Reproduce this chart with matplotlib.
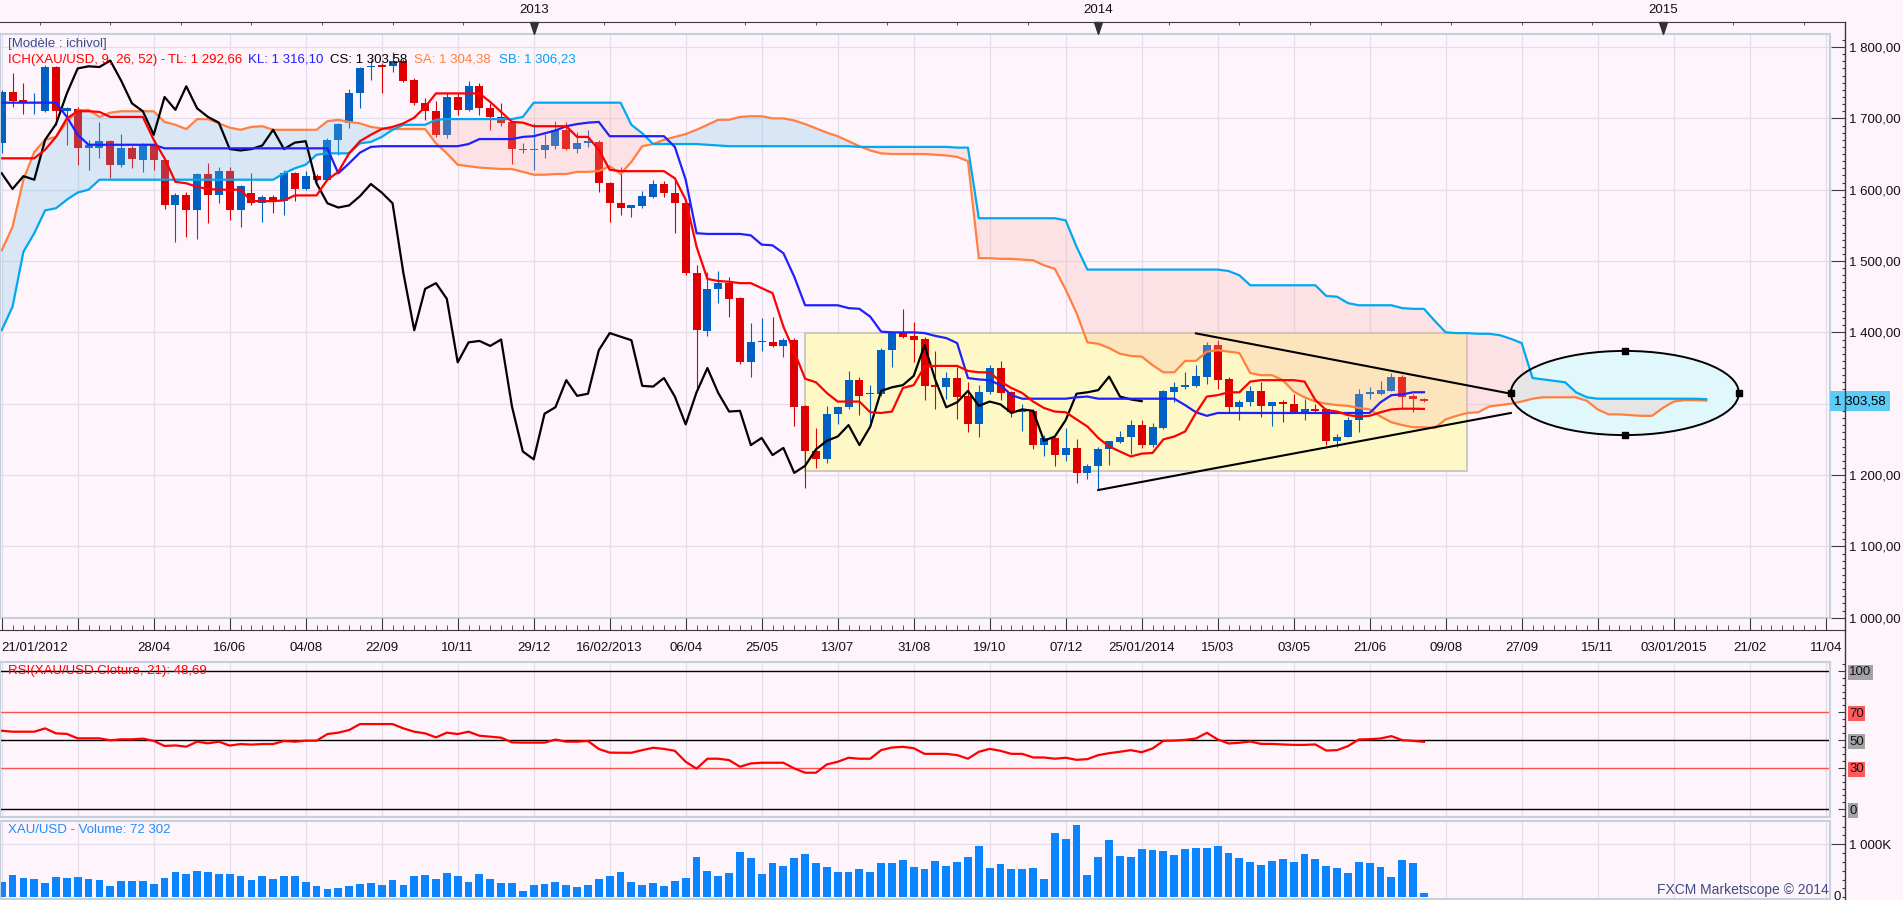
import matplotlib
matplotlib.use('Agg')
import matplotlib.pyplot as plt
import matplotlib.transforms as mtrans
from matplotlib.lines import Line2D
from matplotlib.patches import Rectangle, Ellipse
from matplotlib.ticker import MultipleLocator, FixedLocator, FuncFormatter

plt.rcParams['font.family'] = ['Liberation Sans', 'DejaVu Sans']
plt.rcParams['font.size'] = 9.5

# ---------------- data: weekly XAU/USD, week 0 = 21/01/2012 ----------------
opens = [1665, 1737, 1726, 1721, 1711, 1772, 1711, 1713, 1659, 1659,
         1668, 1635, 1659, 1642, 1663, 1641, 1578, 1593, 1572, 1622,
         1592, 1626, 1571, 1596, 1582, 1590, 1584, 1623, 1601, 1619,
         1614, 1670, 1694, 1735, 1772, 1775, 1773, 1781, 1754, 1721,
         1710, 1677, 1730, 1712, 1745, 1714, 1702, 1695, 1657, 1656,
         1655, 1661, 1684, 1657, 1666, 1667, 1609, 1581, 1575, 1577,
         1590, 1608, 1596, 1581, 1483, 1402, 1461, 1469, 1448, 1359,
         1387, 1387, 1381, 1390, 1297, 1234, 1222, 1285, 1295, 1333,
         1313, 1313, 1375, 1399, 1395, 1391, 1326, 1324, 1336, 1311,
         1271, 1316, 1350, 1316, 1289, 1290, 1242, 1252, 1228, 1238,
         1203, 1213, 1236, 1247, 1253, 1270, 1242, 1266, 1316, 1323,
         1325, 1338, 1382, 1335, 1295, 1302, 1318, 1297, 1303, 1300,
         1287, 1293, 1293, 1248, 1254, 1277, 1314, 1314, 1318, 1338,
         1311, 1307]
highs = [1740, 1763, 1750, 1735, 1775, 1774, 1716, 1716, 1670, 1695,
         1670, 1678, 1661, 1665, 1666, 1643, 1595, 1597, 1624, 1638,
         1632, 1632, 1607, 1623, 1592, 1592, 1627, 1625, 1626, 1622,
         1672, 1694, 1741, 1772, 1782, 1777, 1793, 1783, 1756, 1728,
         1725, 1736, 1736, 1752, 1750, 1721, 1721, 1697, 1665, 1693,
         1678, 1696, 1695, 1681, 1683, 1669, 1611, 1632, 1579, 1598,
         1614, 1612, 1614, 1585, 1494, 1484, 1486, 1477, 1450, 1413,
         1420, 1422, 1392, 1392, 1298, 1266, 1297, 1297, 1346, 1337,
         1326, 1378, 1402, 1433, 1414, 1394, 1374, 1344, 1352, 1330,
         1326, 1354, 1360, 1318, 1300, 1292, 1256, 1254, 1266, 1250,
         1215, 1239, 1248, 1262, 1277, 1277, 1273, 1319, 1331, 1345,
         1354, 1387, 1389, 1337, 1305, 1325, 1330, 1303, 1305, 1314,
         1307, 1300, 1294, 1257, 1282, 1321, 1324, 1332, 1343, 1340,
         1314, 1308]
lows = [1651, 1716, 1706, 1706, 1709, 1691, 1663, 1635, 1628, 1645,
        1616, 1632, 1630, 1625, 1628, 1573, 1527, 1534, 1531, 1554,
        1582, 1557, 1548, 1578, 1555, 1568, 1564, 1584, 1599, 1612,
        1613, 1649, 1686, 1715, 1754, 1736, 1765, 1751, 1719, 1698,
        1674, 1673, 1705, 1710, 1705, 1684, 1689, 1636, 1652, 1628,
        1644, 1657, 1655, 1652, 1660, 1597, 1555, 1564, 1562, 1575,
        1589, 1590, 1539, 1480, 1322, 1395, 1441, 1421, 1356, 1338,
        1374, 1379, 1366, 1269, 1182, 1210, 1217, 1272, 1293, 1284,
        1274, 1311, 1352, 1392, 1359, 1305, 1292, 1306, 1278, 1261,
        1253, 1313, 1305, 1282, 1262, 1237, 1226, 1212, 1220, 1189,
        1194, 1179, 1214, 1245, 1230, 1238, 1240, 1265, 1303, 1320,
        1324, 1328, 1320, 1287, 1277, 1297, 1282, 1269, 1274, 1287,
        1277, 1287, 1242, 1240, 1253, 1260, 1306, 1312, 1318, 1294,
        1288, 1302]
closes = [1737, 1725, 1723, 1723, 1772, 1711, 1714, 1659, 1662, 1668,
          1635, 1659, 1643, 1663, 1641, 1578, 1593, 1572, 1622, 1592,
          1626, 1571, 1605, 1582, 1590, 1584, 1623, 1601, 1619, 1614,
          1670, 1692, 1735, 1770, 1773, 1772, 1781, 1753, 1721, 1710,
          1677, 1730, 1712, 1745, 1714, 1702, 1694, 1657, 1655, 1657,
          1662, 1684, 1657, 1666, 1668, 1609, 1581, 1575, 1578, 1591,
          1608, 1596, 1581, 1483, 1403, 1461, 1469, 1447, 1358, 1386,
          1388, 1381, 1390, 1296, 1233, 1222, 1286, 1295, 1333, 1311,
          1314, 1375, 1399, 1394, 1389, 1325, 1324, 1336, 1310, 1271,
          1316, 1350, 1315, 1289, 1290, 1242, 1252, 1228, 1238, 1203,
          1213, 1236, 1248, 1254, 1270, 1242, 1268, 1318, 1323, 1326,
          1339, 1382, 1333, 1295, 1302, 1318, 1297, 1303, 1299, 1287,
          1292, 1290, 1248, 1254, 1277, 1314, 1316, 1319, 1338, 1310,
          1306, 1303.58]

# Ichimoku lines
tenkan = [1644, 1644, 1644, 1644, 1656, 1674, 1700, 1710, 1710, 1709,
          1702, 1702, 1702, 1702, 1670, 1644, 1611, 1609, 1604, 1601,
          1600, 1600, 1600, 1584, 1584, 1584, 1585, 1592, 1592, 1592,
          1614, 1625, 1651, 1668, 1677, 1685, 1688, 1693, 1701, 1716,
          1735, 1735, 1735, 1735, 1735, 1723, 1709, 1695, 1694, 1689,
          1689, 1689, 1689, 1674, 1674, 1656, 1628, 1626, 1626, 1626,
          1626, 1626, 1616, 1586, 1520, 1475, 1472, 1471, 1469, 1469,
          1462, 1455, 1408, 1373, 1335, 1330, 1315, 1303, 1303, 1303,
          1288, 1287, 1289, 1322, 1326, 1352, 1353, 1353, 1353, 1346,
          1344, 1344, 1331, 1322, 1315, 1303, 1294, 1289, 1288, 1278,
          1268, 1252, 1240, 1233, 1226, 1230, 1231, 1250, 1254, 1261,
          1287, 1310, 1312, 1316, 1316, 1331, 1333, 1333, 1333, 1333,
          1331, 1305, 1291, 1289, 1284, 1282, 1283, 1288, 1292, 1293,
          1293, 1292.66]
kijun = [1722, 1722, 1722, 1722, 1722, 1722, 1702, 1677, 1663, 1663,
         1663, 1663, 1663, 1663, 1663, 1658, 1658, 1658, 1658, 1658,
         1658, 1658, 1658, 1658, 1658, 1658, 1658, 1658, 1658, 1658,
         1658, 1623, 1637, 1652, 1660, 1661, 1661, 1661, 1661, 1661,
         1661, 1661, 1661, 1664, 1671, 1671, 1671, 1671, 1674, 1675,
         1679, 1683, 1689, 1692, 1694, 1695, 1675, 1675, 1675, 1675,
         1675, 1675, 1660, 1614, 1539, 1538, 1538, 1538, 1538, 1536,
         1523, 1522, 1511, 1478, 1438, 1438, 1438, 1438, 1434, 1433,
         1422, 1401, 1400, 1400, 1400, 1399, 1395, 1392, 1385, 1336,
         1334, 1333, 1326, 1312, 1307, 1307, 1307, 1307, 1307, 1309,
         1310, 1307, 1307, 1307, 1307, 1307, 1307, 1307, 1307, 1298,
         1288, 1283, 1287, 1287, 1287, 1287, 1287, 1287, 1287, 1287,
         1287, 1287, 1287, 1287, 1287, 1287, 1287, 1302, 1312, 1313,
         1316, 1316.10]
# senkou spans run 26 weeks past the last bar
senkou_a = [1515, 1548, 1614, 1653, 1670, 1674, 1695, 1711, 1712, 1702,
            1708, 1710, 1710, 1710, 1710, 1695, 1691, 1685, 1699, 1699,
            1693, 1687, 1684, 1688, 1689, 1684, 1684, 1684, 1684, 1684,
            1696, 1698, 1695, 1693, 1688, 1686, 1685, 1685, 1685, 1685,
            1665, 1651, 1635, 1633, 1631, 1630, 1629, 1629, 1625, 1621,
            1621, 1622, 1622, 1625, 1625, 1626, 1633, 1622, 1639, 1661,
            1664, 1670, 1674, 1678, 1684, 1691, 1698, 1698, 1702, 1703,
            1703, 1700, 1700, 1697, 1692, 1686, 1680, 1675, 1668, 1661,
            1655, 1651, 1650, 1650, 1650, 1650, 1649, 1648, 1646, 1640,
            1504, 1504, 1503, 1503, 1502, 1501, 1494, 1489, 1460, 1427,
            1386, 1384, 1378, 1370, 1367, 1366, 1354, 1344, 1344, 1360,
            1360, 1373, 1375, 1373, 1371, 1343, 1340, 1340, 1333, 1317,
            1309, 1303, 1300, 1298, 1297, 1294, 1292, 1282, 1274, 1270,
            1267, 1267, 1266, 1278, 1283, 1287, 1288, 1296, 1298, 1300,
            1303, 1307, 1309, 1309, 1309, 1309, 1304, 1292, 1285, 1285,
            1284, 1283, 1283, 1294, 1303, 1305, 1305, 1304.38]
senkou_b = [1403, 1436, 1513, 1539, 1571, 1574, 1586, 1596, 1600, 1614,
            1614, 1614, 1614, 1614, 1614, 1614, 1614, 1614, 1614, 1614,
            1614, 1614, 1614, 1614, 1614, 1614, 1623, 1630, 1635, 1649,
            1651, 1651, 1651, 1665, 1667, 1674, 1684, 1691, 1691, 1691,
            1698, 1699, 1699, 1699, 1699, 1699, 1699, 1699, 1702, 1722,
            1722, 1722, 1722, 1722, 1722, 1722, 1722, 1722, 1691, 1679,
            1664, 1664, 1664, 1664, 1664, 1663, 1662, 1661, 1661, 1661,
            1661, 1661, 1661, 1661, 1661, 1661, 1661, 1661, 1661, 1660,
            1660, 1660, 1660, 1660, 1660, 1660, 1660, 1660, 1659, 1659,
            1560, 1560, 1560, 1560, 1560, 1560, 1560, 1560, 1557, 1520,
            1488, 1488, 1488, 1488, 1488, 1488, 1488, 1488, 1488, 1488,
            1488, 1488, 1488, 1486, 1480, 1466, 1466, 1466, 1466, 1466,
            1466, 1466, 1451, 1450, 1441, 1438, 1438, 1438, 1438, 1434,
            1433, 1433, 1416, 1400, 1399, 1399, 1398, 1398, 1396, 1391,
            1385, 1336, 1334, 1332, 1330, 1316, 1309, 1307, 1307, 1307,
            1307, 1307, 1307, 1307, 1307, 1307, 1307, 1306.23]
chikou_shift = 26

rsi = [56.7, 56.0, 56.0, 56.0, 58.4, 54.8, 54.4, 51.2, 51.2, 51.2,
       49.8, 50.5, 50.5, 51.0, 49.4, 45.7, 46.1, 45.2, 48.8, 47.6,
       48.8, 46.0, 47.1, 46.7, 47.1, 47.1, 49.3, 48.8, 49.5, 49.5,
       54.3, 55.3, 57.2, 61.5, 61.5, 61.5, 61.5, 58.4, 56.0, 54.8,
       51.9, 55.3, 54.3, 56.0, 53.1, 52.4, 51.7, 48.3, 48.1, 48.1,
       48.1, 50.3, 48.8, 48.8, 49.3, 43.5, 40.9, 40.8, 40.8, 42.7,
       44.4, 43.6, 42.2, 34.3, 29.3, 36.5, 36.5, 35.5, 30.7, 33.1,
       33.6, 33.6, 33.6, 29.5, 26.4, 26.4, 32.4, 34.3, 37.2, 36.5,
       36.5, 42.7, 44.6, 45.1, 44.1, 40.0, 40.0, 40.0, 39.1, 36.5,
       41.5, 43.6, 42.2, 40.0, 40.0, 37.4, 37.4, 36.5, 37.2, 35.7,
       36.2, 39.1, 40.5, 41.5, 42.7, 41.2, 43.9, 49.4, 49.6, 50.1,
       51.1, 55.2, 50.4, 47.5, 48.0, 48.9, 47.2, 47.2, 46.8, 46.5,
       46.5, 46.8, 42.4, 42.7, 45.6, 50.4, 50.6, 51.1, 52.8, 49.9,
       49.4, 48.7]
rsi_levels = [100, 70, 50, 30, 0]
rsi_level_colors = ['black', '#ff5050', 'black', '#ff5050', 'black']
rsi_label_bg = ['#a3a3a3', '#ff5a5a', '#a3a3a3', '#ff5a5a', '#a3a3a3']

volume_k = [289, 421, 371, 346, 270, 384, 371, 384, 346, 327,
            214, 308, 308, 308, 252, 371, 478, 440, 497, 478,
            440, 440, 403, 327, 403, 346, 403, 403, 289, 214,
            157, 176, 214, 252, 270, 233, 327, 233, 403, 421,
            346, 459, 403, 289, 440, 346, 270, 270, 119, 233,
            252, 289, 233, 195, 233, 346, 403, 481, 294, 238,
            275, 219, 313, 369, 763, 500, 406, 463, 856, 744,
            444, 650, 594, 744, 819, 650, 575, 481, 481, 538,
            481, 650, 650, 706, 575, 538, 688, 594, 669, 763,
            969, 556, 631, 538, 538, 556, 350, 1213, 1100, 1363,
            425, 763, 1081, 781, 763, 913, 894, 875, 800, 913,
            931, 931, 969, 838, 744, 669, 613, 688, 725, 669,
            819, 725, 594, 556, 463, 669, 650, 575, 388, 706,
            650, 72]

# time axis labels (one grid line every 7 weeks)
grid_weeks = list(range(0, 169, 7))
date_labels = ['21/01/2012', '', '28/04', '16/06', '04/08', '22/09', '10/11',
               '29/12', '16/02/2013', '06/04', '25/05', '13/07', '31/08',
               '19/10', '07/12', '25/01/2014', '15/03', '03/05', '21/06',
               '09/08', '27/09', '15/11', '03/01/2015', '21/02', '11/04']
year_weeks = [49, 101, 153]
year_labels = ['2013', '2014', '2015']
top_tick_weeks = [49 + 6.5 * k for k in range(-7, 19)]

# drawings on the chart
box_weeks = [74, 135]
box_prices = [1205, 1399]
upper_trend_weeks = [110, 139]
upper_trend_prices = [1398.6, 1314]
lower_trend_weeks = [101, 139]
lower_trend_prices = [1179, 1287]
ell_center = (149.5, 1315)
ell_size = (21, 118)
handle_weeks = [139, 160, 149.5, 149.5]
handle_prices = [1315, 1315, 1374, 1256]

# ---------------- layout ----------------
W, H = 1903, 900
PX_WEEK = 10.857
X0 = -1.7 / PX_WEEK
BG = '#fef4fc'
GRID = '#e2dde8'
FRAME = '#c6d0da'
AXIS = '#3a3a3a'
BLUE = '#0060c4'
RED = '#de0000'


def box(x0, y0, x1, y1):
    return [x0 / W, 1 - y1 / H, (x1 - x0) / W, (y1 - y0) / H]


def xright(px):
    return X0 + px / PX_WEEK


def price_fmt(v, pos=None):
    return f'{v:,.2f}'.replace(',', ' ').replace('.', ',')


def axis_fmt(v, pos):
    # the 1 300 label sits under the last-price box
    if abs(v - 1300) < 1e-6:
        return ''
    return price_fmt(v)


fig = plt.figure(figsize=(W / 100, H / 100), dpi=100, facecolor=BG)


def panel(y0, y1, ylim):
    ax = fig.add_axes(box(0, y0, 1830, y1), facecolor=BG)
    ax.set_xlim(X0, xright(1830))
    ax.set_ylim(*ylim)
    ax.yaxis.tick_right()
    ax.spines['right'].set_position(('outward', 15 * 0.72))
    for s in ax.spines.values():
        s.set_visible(False)
    ax.add_patch(Rectangle((0, 0), 1, 1, transform=ax.transAxes, fill=False,
                           ec=FRAME, lw=1.5, zorder=10, clip_on=False))
    ax.set_xticks(grid_weeks)
    ax.tick_params(axis='x', bottom=False, labelbottom=False)
    ax.grid(axis='x', color=GRID, lw=0.9)
    ax.tick_params(axis='y', which='both', direction='in', color=AXIS,
                   labelcolor='#111111', pad=2.9)
    ax.tick_params(axis='y', which='major', length=10, width=0.8)
    ax.tick_params(axis='y', which='minor', length=2.4, width=0.8)
    ax.set_axisbelow(True)
    return ax


# ---- price panel ----
ax = panel(33.7, 617.7, (1000, 1818.7))
ax.set_yticks(range(1000, 1801, 100))
ax.yaxis.set_minor_locator(MultipleLocator(10))
ax.yaxis.set_major_formatter(FuncFormatter(axis_fmt))
ax.grid(axis='y', which='major', color=GRID, lw=0.9)

weeks = list(range(len(closes)))
cols = [BLUE if c >= o else RED for o, c in zip(opens, closes)]
ax.vlines(weeks, lows, highs, colors=cols, lw=0.8, zorder=2)
ax.bar(weeks, [max(abs(c - o), 1.6) for o, c in zip(opens, closes)],
       bottom=[min(o, c) for o, c in zip(opens, closes)],
       width=0.74, color=cols, zorder=2.1)

ax.add_patch(Rectangle((box_weeks[0], box_prices[0]), box_weeks[1] - box_weeks[0],
                       box_prices[1] - box_prices[0], fc='#fdf8c6', ec='#c8c6bc',
                       lw=1.3, zorder=1))
ax.add_patch(Ellipse(ell_center, ell_size[0], ell_size[1], fc='#e0f8fc',
                     ec='none', zorder=1.5))

span_weeks = list(range(len(senkou_a)))
ax.fill_between(span_weeks, senkou_a, senkou_b,
                where=[a >= b for a, b in zip(senkou_a, senkou_b)],
                interpolate=True, color='#6ac0e8', alpha=0.25, lw=0, zorder=3)
ax.fill_between(span_weeks, senkou_a, senkou_b,
                where=[a <= b for a, b in zip(senkou_a, senkou_b)],
                interpolate=True, color='#fab0a4', alpha=0.25, lw=0, zorder=3)

ax.plot(span_weeks, senkou_a, color='#ff8040', lw=1.6, zorder=4)
ax.plot(span_weeks, senkou_b, color='#00a8f0', lw=1.6, zorder=4)
ax.plot(weeks, kijun, color='#2020ff', lw=1.6, zorder=4.2)
ax.plot(weeks, tenkan, color='#ff0000', lw=1.6, zorder=4.3)
ax.plot(weeks[:-chikou_shift], closes[chikou_shift:], color='black', lw=1.6, zorder=4.1)

ax.plot(upper_trend_weeks, upper_trend_prices, color='black', lw=1.5, zorder=5)
ax.plot(lower_trend_weeks, lower_trend_prices, color='black', lw=1.5, zorder=5)
ax.add_patch(Ellipse(ell_center, ell_size[0], ell_size[1], fill=False,
                     ec='black', lw=1.4, zorder=6))
ax.plot(handle_weeks, handle_prices, 's', ms=5, color='black', zorder=7)

blend = mtrans.blended_transform_factory(ax.transAxes, ax.transData)
ax.text(1 + 4 / 1830, closes[-1], price_fmt(closes[-1]), transform=blend,
        va='center', ha='left', zorder=12, clip_on=False,
        bbox=dict(boxstyle='square,pad=0.3', fc='#5ccbf5', ec='none'))

# ---- RSI panel ----
ax_rsi = panel(662, 816.7, (-5.34, 106.3))
ax_rsi.set_yticks(rsi_levels, [str(v) for v in rsi_levels])
ax_rsi.yaxis.set_minor_locator(MultipleLocator(5))
ax_rsi.tick_params(axis='y', which='major', length=5)
for t, c in zip(ax_rsi.yaxis.get_major_ticks(), rsi_label_bg):
    t.label2.set_bbox(dict(fc=c, ec='none', pad=1))
for lvl, c in zip(rsi_levels, rsi_level_colors):
    ax_rsi.axhline(lvl, color=c, lw=1.0, zorder=1.5)
ax_rsi.plot(weeks, rsi, color='#ff0000', lw=1.6, zorder=3)

# ---- volume panel ----
ax_vol = panel(821, 898.5, (-22.6, 1440))
ax_vol.set_yticks([1000], ['1 000K'])
ax_vol.yaxis.set_minor_locator(MultipleLocator(1000 / 6))
ax_vol.axhline(1000, color=GRID, lw=0.9, zorder=0.5)
ax_vol.bar(weeks, volume_k, width=0.72, color='#0a84ff', zorder=2)
ax_vol.text(1 + 4 / 1830, 0, '0', transform=mtrans.blended_transform_factory(
    ax_vol.transAxes, ax_vol.transData), va='center', ha='left',
    color='#111111', clip_on=False)

# ---- top year axis ----
ax_top = fig.add_axes(box(0, 21.7, 1845, 33.7))
ax_top.patch.set_visible(False)
ax_top.set_xlim(X0, xright(1845))
ax_top.set_ylim(0, 1)
for k, s in ax_top.spines.items():
    s.set_visible(k == 'top')
ax_top.spines['top'].set_color(AXIS)
ax_top.set_yticks([])
ax_top.xaxis.tick_top()
ax_top.set_xticks(year_weeks, year_labels)
ax_top.xaxis.set_minor_locator(FixedLocator(top_tick_weeks))
ax_top.tick_params(axis='x', which='major', length=0, pad=4.4, labelcolor='#111111')
ax_top.tick_params(axis='x', which='minor', direction='in', length=2.5, color=AXIS)
ax_top.plot(year_weeks, [1] * len(year_weeks), ls='none', color='#303030',
            marker=[(-4, 0), (4, 0), (0, -12), (-4, 0)], ms=17, clip_on=False)

# ---- date axis ----
ax_date = fig.add_axes(box(0, 618, 1845, 630))
ax_date.patch.set_visible(False)
ax_date.set_xlim(X0, xright(1845))
for k, s in ax_date.spines.items():
    s.set_visible(k == 'bottom')
ax_date.spines['bottom'].set_color(AXIS)
ax_date.set_yticks([])
ax_date.set_xticks(grid_weeks, date_labels)
ax_date.xaxis.set_minor_locator(FixedLocator(range(0, 169)))
ax_date.tick_params(axis='x', which='major', direction='in', length=8.6,
                    color=AXIS, pad=8.8, labelcolor='#111111')
ax_date.tick_params(axis='x', which='minor', direction='in', length=3.6, color=AXIS)
ax_date.get_xticklabels()[0].set_ha('left')

fig.add_artist(Line2D([1845 / W, 1845 / W], [1 - 21.7 / H, 0], color=AXIS, lw=1))


# ---- header texts ----
def ftext(x, y, s, **kw):
    fig.text(x / W, 1 - y / H, s, va='center', ha=kw.pop('ha', 'left'), **kw)


ftext(8, 43.5, '[Modèle : ichivol]', color='#3d4b8c')
ftext(8, 59.5, 'ICH(XAU/USD, 9, 26, 52) -', color='#ff0000')
ftext(168, 59.5, 'TL: 1 292,66', color='#ff0000')
ftext(248, 59.5, 'KL: 1 316,10', color='#2020ff')
ftext(330, 59.5, 'CS: 1 303,58', color='black')
ftext(414, 59.5, 'SA: 1 304,38', color='#ff8040')
ftext(499, 59.5, 'SB: 1 306,23', color='#00a0f0')
ftext(8, 671, 'RSI(XAU/USD.Cloture, 21): 48,69', color='#ff0000')
ftext(8, 830, 'XAU/USD - Volume: 72 302', color='#1e8cff')
ftext(1829, 890, 'FXCM Marketscope © 2014', color='#404a80', ha='right', fontsize=10)

fig.savefig('out.png', dpi=100, facecolor=BG)
